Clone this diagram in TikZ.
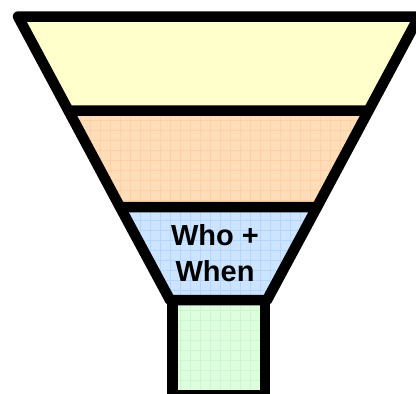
\documentclass[tikz,border=0pt]{standalone}
\usepackage{fontspec}
\setmainfont{Liberation Sans}
\usepackage{tikz}
\usetikzlibrary{positioning,calc}

\definecolor{tieryellow}{HTML}{FFFFCC}
\definecolor{tierorange}{HTML}{FFDDB8}
\definecolor{tierblue}{HTML}{CCE4FF}
\definecolor{tiergreen}{HTML}{DDFFDD}
\definecolor{gridorange}{HTML}{FFD0A6}
\definecolor{gridblue}{HTML}{B6D5FA}
\definecolor{gridgreen}{HTML}{CCF6CC}

\begin{document}
\begin{tikzpicture}[
    x=1pt, y=-1pt,
    outline/.style={
        draw=black,
        line width=10.5pt,
        line join=round
    },
    gridlines/.style={
        line width=0.5pt
    },
    tierlabel/.style={
        font=\fontsize{29}{36}\selectfont\bfseries,
        align=center,
        inner sep=0pt
    }
]

\useasboundingbox (0,0) rectangle (416,394);
\clip (0,0) rectangle (416,394);

% ------------------------------------------------------------------
% Funnel corners
% ------------------------------------------------------------------

\coordinate (topleft)  at (18,16.5);
\coordinate (topright) at (419,16.5);
\coordinate (aleft)    at (68.4,110.5);
\coordinate (aright)   at (368.6,110.5);
\coordinate (bleft)    at (120,207);
\coordinate (bright)   at (317,207);
\coordinate (cleft)    at (170,300);
\coordinate (cright)   at (267,300);

% ------------------------------------------------------------------
% Fills
% ------------------------------------------------------------------

\fill[tieryellow] (topleft) -- (topright) -- (aright) -- (aleft) -- cycle;

\begin{scope}
    \clip (aleft) -- (aright) -- (bright) -- (bleft) -- cycle;
    \fill[tierorange] (0,0) rectangle (416,394);
    \draw[gridlines, gridorange] (0,0) grid[step=10pt] (416,394);
\end{scope}

\begin{scope}
    \clip (bleft) -- (bright) -- (cright) -- (cleft) -- cycle;
    \fill[tierblue] (0,0) rectangle (416,394);
    \draw[gridlines, gridblue] (0,0) grid[step=10pt] (416,394);
\end{scope}

\begin{scope}
    \clip (172.5,300) rectangle (265,395);
    \fill[tiergreen] (0,0) rectangle (416,394);
    \draw[gridlines, gridgreen] (0,0) grid[step=10pt] (416,394);
\end{scope}

% ------------------------------------------------------------------
% Outlines
% ------------------------------------------------------------------

\draw[outline] (topleft) -- (topright) -- (aright) -- (aleft) -- cycle;
\draw[outline] (aright) -- (bright) -- (bleft) -- (aleft);
\draw[outline] (bright) -- (cright) -- (cleft) -- (bleft);
\draw[outline] (172.5,300) rectangle (265,395);

% ------------------------------------------------------------------
% Label
% ------------------------------------------------------------------

\node[tierlabel] (whowhen) at (215,253) {Who +\\When};

\end{tikzpicture}
\end{document}
